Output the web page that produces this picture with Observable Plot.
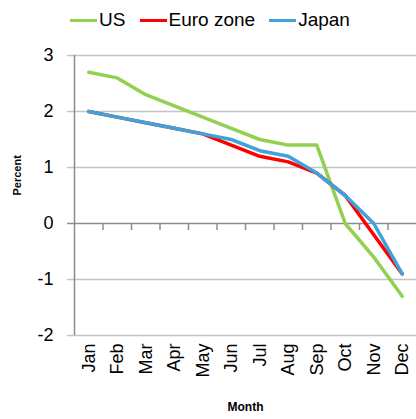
<!DOCTYPE html>
<html>
<head>
<meta charset="utf-8">
<script src="https://cdn.jsdelivr.net/npm/d3@7"></script>
<script src="https://cdn.jsdelivr.net/npm/@observablehq/plot@0.6"></script>
<style>
  html, body { margin: 0; padding: 0; background: #fff; }
  body { width: 416px; height: 419px; overflow: hidden; font-family: "Liberation Sans", Arial, sans-serif; }
  #legend { height: 40px; display: flex; justify-content: center; align-items: center; font-size: 19px; color: #000; padding-left: 4px; box-sizing: border-box; }
  .item { display: flex; align-items: center; margin: 0 7px; }
  .sw { width: 27px; height: 3px; margin-right: 2px; }
</style>
</head>
<body>
<div id="legend"></div>
<div id="chart"></div>
<script>
const months = ["Jan","Feb","Mar","Apr","May","Jun","Jul","Aug","Sep","Oct","Nov","Dec"];
const us    = [2.7, 2.6, 2.3, 2.1, 1.9, 1.7, 1.5, 1.4, 1.4, 0.0, -0.6, -1.3];
const euro  = [2.0, 1.9, 1.8, 1.7, 1.6, 1.4, 1.2, 1.1, 0.9, 0.5, -0.2, -0.9];
const japan = [2.0, 1.9, 1.8, 1.7, 1.6, 1.5, 1.3, 1.2, 0.9, 0.5, 0.0, -0.9];
const seriesNames = ["US", "Euro zone", "Japan"];
const seriesColors = ["#92D050", "#FF0000", "#3FA3DB"];
const yTicks = [-2, -1, 0, 1, 2, 3];

const seriesValues = [us, euro, japan];
const data = [];
seriesNames.forEach((s, k) => seriesValues[k].forEach((v, i) => data.push({series: s, idx: i + 0.5, value: v})));

const legend = document.getElementById("legend");
seriesNames.forEach((s, k) => {
  const it = document.createElement("div");
  it.className = "item";
  it.innerHTML = `<span class="sw" style="background:${seriesColors[k]}"></span><span>${s}</span>`;
  legend.appendChild(it);
});

const chart = Plot.plot({
  width: 416,
  height: 379,
  marginTop: 15,
  marginBottom: 84,
  marginLeft: 74,
  marginRight: 0,
  style: {fontFamily: '"Liberation Sans", Arial, sans-serif', background: "#fff"},
  x: {domain: [0, 12]},
  y: {domain: [-2, 3]},
  color: {domain: seriesNames, range: seriesColors},
  marks: [
    Plot.gridY(yTicks.filter(d => d !== 0), {stroke: "#c4c4c4", strokeOpacity: 1, strokeWidth: 1.5}),
    Plot.axisY(yTicks.filter(d => d !== 0), {tickSize: 7, stroke: "#c4c4c4", strokeWidth: 1.5, tickPadding: 14, fontSize: 18, fill: "#000", tickFormat: d => String(d), label: null}),
    Plot.axisY([0], {tickSize: 7, stroke: "#8c8c8c", strokeWidth: 1.5, tickPadding: 14, fontSize: 18, fill: "#000", tickFormat: d => String(d), label: null}),
    Plot.ruleY([0], {stroke: "#8c8c8c", strokeWidth: 1.5}),
    Plot.ruleX(d3.range(1, 12), {y1: 0, y2: -0.125, stroke: "#8c8c8c", strokeWidth: 1.5}),
    Plot.ruleX([0], {y1: -2, y2: 3, stroke: "#8c8c8c", strokeWidth: 1.5}),
    Plot.axisX(months.map((m, i) => i + 0.5), {tickSize: 0, tickPadding: 8, tickRotate: -90, fontSize: 18, fill: "#000", tickFormat: d => months[Math.floor(d)], label: null}),
    Plot.text(["Percent"], {frameAnchor: "left", dx: -57, rotate: -90, fontSize: 11, fontWeight: "bold", fill: "#000"}),
    Plot.text(["Month"], {frameAnchor: "bottom", dy: 75, fontSize: 12, fontWeight: "bold", fill: "#000"}),
    Plot.line(data, {x: "idx", y: "value", z: "series", stroke: "series", strokeWidth: 3.5, strokeLinejoin: "round", strokeLinecap: "round"})
  ]
});
document.getElementById("chart").appendChild(chart);
</script>
</body>
</html>
